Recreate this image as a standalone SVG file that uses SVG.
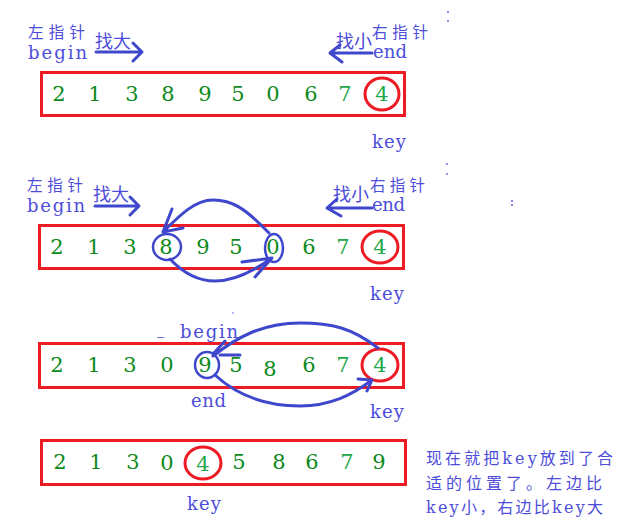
<svg xmlns="http://www.w3.org/2000/svg" width="627" height="529" viewBox="0 0 627 529">
<style>
.bg{fill:#ffffff}
.box{fill:none;stroke:#ed1c24;stroke-width:3}
.key{fill:none;stroke:#ed1c24;stroke-width:3}
.sel{fill:none;stroke:#3f48cc;stroke-width:2.5}
.d{font-family:'DejaVu Serif',serif;font-size:21px;fill:#0d8a1a;text-anchor:middle}
.dl{fill:#22a84a}
.lbl{font-family:'DejaVu Serif',serif;font-size:18px;fill:#4d4dd9}
.cn{font-family:'Noto Sans CJK SC','Noto Sans CJK JP',sans-serif;font-size:15.5px;fill:#4d4dd9}
.cnb{font-family:'Noto Sans CJK SC','Noto Sans CJK JP',sans-serif;font-size:18px;fill:#4d4dd9}
.note{font-family:'DejaVu Serif','Noto Sans CJK SC',serif;font-size:16px;fill:#4d4dd9}
.ln{fill:none;stroke:#3f48cc;stroke-width:3;stroke-linecap:round;stroke-linejoin:round}
.dot{fill:#6a5adf}
</style>
<rect class="bg" x="0" y="0" width="627" height="529"/>

<g id="row1">
<rect class="box" x="41.5" y="72.5" width="363" height="43"/>
<text class="d" x="59" y="101">2</text><text class="d" x="95" y="101">1</text><text class="d" x="132" y="101">3</text><text class="d" x="168" y="101">8</text><text class="d" x="205" y="101">9</text><text class="d" x="238" y="101">5</text><text class="d" x="273" y="101">0</text><text class="d" x="311" y="101">6</text><text class="d dl" x="345" y="101">7</text><text class="d dl" x="382" y="101">4</text>
<ellipse class="key" cx="382" cy="94" rx="17" ry="16"/>
<text class="cn" x="28" y="38" textLength="57" lengthAdjust="spacing">左指针</text>
<text class="lbl" x="28" y="59" textLength="59" lengthAdjust="spacing">begin</text>
<text class="cnb" x="95" y="48">找大</text>
<text class="cn" x="372" y="38" textLength="56" lengthAdjust="spacing">右指针</text>
<text class="lbl" x="373" y="58" textLength="34" lengthAdjust="spacing">end</text>
<text class="cnb" x="336" y="48">找小</text>
<text class="lbl" x="372" y="148" textLength="34" lengthAdjust="spacing">key</text>
</g>

<g id="row2">
<rect class="box" x="39.5" y="225.5" width="364" height="43"/>
<text class="d" x="57" y="254">2</text><text class="d" x="94" y="254">1</text><text class="d" x="130" y="254">3</text><text class="d" x="166" y="254">8</text><text class="d" x="203" y="254">9</text><text class="d" x="236" y="254">5</text><text class="d" x="273" y="254">0</text><text class="d" x="309" y="254">6</text><text class="d dl" x="343" y="254">7</text><text class="d dl" x="380" y="254">4</text>
<ellipse class="key" cx="380" cy="247" rx="18" ry="16"/>
<ellipse class="sel" cx="167" cy="247" rx="14" ry="13"/>
<ellipse class="sel" cx="274" cy="248" rx="9" ry="14"/>
<text class="cn" x="27" y="191" textLength="56" lengthAdjust="spacing">左指针</text>
<text class="lbl" x="27" y="212" textLength="58" lengthAdjust="spacing">begin</text>
<text class="cnb" x="93" y="201">找大</text>
<text class="cn" x="370" y="191" textLength="55" lengthAdjust="spacing">右指针</text>
<text class="lbl" x="372" y="211" textLength="33" lengthAdjust="spacing">end</text>
<text class="cnb" x="333" y="201">找小</text>
<text class="lbl" x="370" y="300" textLength="34" lengthAdjust="spacing">key</text>
</g>

<g id="row3">
<rect class="box" x="39.5" y="343.5" width="364" height="44"/>
<text class="d" x="57" y="372">2</text><text class="d" x="94" y="372">1</text><text class="d" x="130" y="372">3</text><text class="d" x="167" y="372">0</text><text class="d" x="205" y="372">9</text><text class="d" x="236" y="372">5</text><text class="d" x="270" y="376">8</text><text class="d" x="309" y="372">6</text><text class="d dl" x="343" y="372">7</text><text class="d dl" x="380" y="372">4</text>
<ellipse class="key" cx="380" cy="365" rx="18" ry="16"/>
<ellipse class="sel" cx="207" cy="365" rx="12" ry="13"/>
<text class="lbl" x="157" y="333" textLength="7" lengthAdjust="spacingAndGlyphs">_</text>
<text class="lbl" x="180" y="338" textLength="58" lengthAdjust="spacing">begin</text>
<text class="lbl" x="191" y="407" textLength="35" lengthAdjust="spacing">end</text>
<text class="lbl" x="370" y="418" textLength="34" lengthAdjust="spacing">key</text>
</g>

<g id="row4">
<rect class="box" x="41.5" y="440.5" width="364" height="44"/>
<text class="d" x="60" y="469">2</text><text class="d" x="96" y="469">1</text><text class="d" x="133" y="469">3</text><text class="d" x="167" y="470">0</text><text class="d dl" x="203" y="471">4</text><text class="d" x="239" y="469">5</text><text class="d" x="279" y="469">8</text><text class="d" x="312" y="469">6</text><text class="d dl" x="347" y="469">7</text><text class="d" x="379" y="469">9</text>
<ellipse class="key" cx="203" cy="463" rx="18" ry="16"/>
<text class="lbl" x="187" y="510" textLength="34" lengthAdjust="spacing">key</text>
</g>

<g id="note">
<text class="note" x="426" y="464" textLength="187" lengthAdjust="spacing">现在就把key放到了合</text>
<text class="note" x="426" y="489" textLength="176" lengthAdjust="spacing">适的位置了。左边比</text>
<text class="note" x="426" y="513" textLength="177" lengthAdjust="spacing">key小，右边比key大</text>
</g>

<g id="connectors">
<path class="ln" d="M96,52 H141 M133,43 L142,52 L133,61"/>
<path class="ln" d="M372,53 H330 M340,45 L330,53 L342,62"/>
<path class="ln" d="M95,206 H138 M130,197 L139,206 L130,215"/>
<path class="ln" d="M372,208 H327 M337,199 L327,208 L341,216"/>
<path class="ln" d="M269,233 C245,208 232,200 213,200 C195,200 180,215 163,232 M172,209 L163,232 L183,228"/>
<path class="ln" d="M170,259 C185,275 200,281 215,281 C235,281 255,270 272,258 M242,262 L272,258 L255,277"/>
<path class="ln" d="M378,348 C352,328 332,323 300,323 C262,323 236,338 213,356 M225,341 L213,354 M220,355 H240"/>
<path class="ln" d="M215,375 C240,398 270,406 300,406 C330,406 352,395 372,380 M358,379 L372,380 L367,391"/>
</g>

<g id="specks">
<circle class="dot" cx="448" cy="12" r="0.9"/>
<circle class="dot" cx="448" cy="21" r="0.9"/>
<circle class="dot" cx="447" cy="164" r="0.9"/>
<circle class="dot" cx="447" cy="174" r="0.9"/>
<circle class="dot" cx="512" cy="201" r="1"/>
<circle class="dot" cx="512" cy="205" r="1"/>
<circle class="dot" cx="233" cy="313" r="0.8"/>
</g>
</svg>
